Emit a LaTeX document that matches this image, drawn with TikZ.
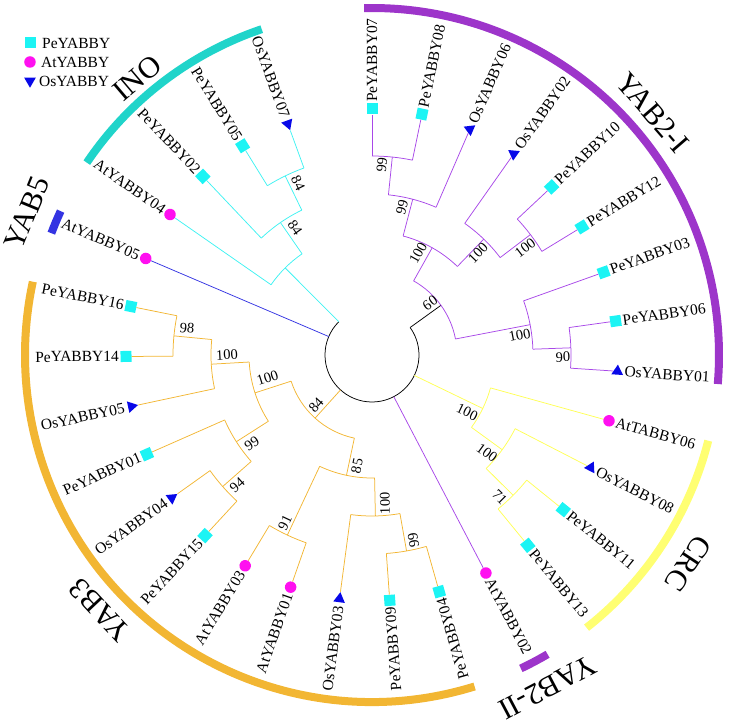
\documentclass[tikz,border=0pt]{standalone}
\usepackage{fontspec}
\setmainfont{Liberation Serif}
\usetikzlibrary{shapes.geometric}

\definecolor{inoline}{HTML}{3FF2F2}
\definecolor{inoarc}{HTML}{20D4CA}
\definecolor{yabfive}{HTML}{3434E2}
\definecolor{yabthree}{HTML}{F2B633}
\definecolor{crcline}{HTML}{FFFF55}
\definecolor{crcarc}{HTML}{FFFF72}
\definecolor{yabtwo}{HTML}{A848E8}
\definecolor{yabtwoarc}{HTML}{9D35CA}
\definecolor{pecol}{HTML}{1CF4F4}
\definecolor{atcol}{HTML}{FF10F0}
\definecolor{oscol}{HTML}{0808E8}

\begin{document}
\begin{tikzpicture}[
    branch/.style={line width=0.75pt},
    pemark/.style={rectangle, fill=pecol, minimum size=11pt, inner sep=0pt},
    atmark/.style={circle, fill=atcol, minimum size=11.5pt, inner sep=0pt},
    osmark/.style={regular polygon, regular polygon sides=3, fill=oscol, minimum size=13.5pt, inner sep=0pt},
    leaflabel/.style={font=\fontsize{15.5}{17}\selectfont, inner sep=1pt},
    bslabel/.style={font=\fontsize{14.5}{16}\selectfont, inner sep=0pt},
    cladelabel/.style={font=\fontsize{30}{32}\selectfont, inner sep=0pt},
    cladearc/.style={line width=8pt}]
    \useasboundingbox (-372pt,-370pt) rectangle (361pt,355pt);

    % Root
    \draw[branch] (-225.086:47pt) arc[start angle=-225.086, end angle=35.776, radius=47pt];
    \draw[branch] (35.776:47pt) -- (35.776:85pt);
    \draw[branch, yabtwo] (60.69:85pt) arc[start angle=60.69, end angle=10.862, radius=85pt];

    % Internal nodes: angle/radius/parent radius/arc start/arc end/colour
    \foreach \th/\r/\pr/\aa/\ab/\col in {
        84.138/199/161/90/78.276/yabtwo, 75.345/161/123/84.138/66.552/yabtwo,
        37.241/199/161/43.103/31.379/yabtwo, 46.034/161/123/54.828/37.241/yabtwo,
        60.69/123/85/75.345/46.034/yabtwo, 2.069/199/161/7.931/-3.793/yabtwo,
        10.862/161/85/19.655/2.069/yabtwo,
        -44.828/199/161/-38.966/-50.690/crcline, -36.034/161/123/-27.241/-44.828/crcline,
        -25.776/123/47/-15.517/-36.034/crcline,
        -80/199/161/-74.138/-85.862/yabthree, -88.793/161/123/-80/-97.586/yabthree,
        -115.172/199/123/-109.310/-121.034/yabthree, -101.983/123/85/-88.793/-115.172/yabthree,
        -138.621/199/161/-132.759/-144.483/yabthree, -147.414/161/123/-138.621/-156.207/yabthree,
        -185.517/199/161/-179.655/-191.379/yabthree, -176.724/161/123/-167.931/-185.517/yabthree,
        -162.069/123/85/-147.414/-176.724/yabthree, -132.026/85/47/-101.983/-162.069/yabthree,
        -244.138/199/161/-238.276/-250/inoline, -235.345/161/123/-226.552/-244.138/inoline,
        -225.086/123/47/-214.828/-235.345/inoline}{
        \draw[branch, \col] (\th:\pr pt) -- (\th:\r pt);
        \draw[branch, \col] (\aa:\r pt) arc[start angle=\aa, end angle=\ab, radius=\r pt];
    }

    % Leaves: index/name/mark/colour/parent radius
    \foreach \i/\nm/\mk/\col/\pr in {
        0/PeYABBY07/pemark/yabtwo/199, 1/PeYABBY08/pemark/yabtwo/199,
        2/OsYABBY06/osmark/yabtwo/161, 3/OsYABBY02/osmark/yabtwo/161,
        4/PeYABBY10/pemark/yabtwo/199, 5/PeYABBY12/pemark/yabtwo/199,
        6/PeYABBY03/pemark/yabtwo/161, 7/PeYABBY06/pemark/yabtwo/199,
        8/OsYABBY01/osmark/yabtwo/199, 9/AtTABBY06/atmark/crcline/123,
        10/OsYABBY08/osmark/crcline/161, 11/PeYABBY11/pemark/crcline/199,
        12/PeYABBY13/pemark/crcline/199, 13/AtYABBY02/atmark/yabtwo/47,
        14/PeYABBY04/pemark/yabthree/199, 15/PeYABBY09/pemark/yabthree/199,
        16/OsYABBY03/osmark/yabthree/161, 17/AtYABBY01/atmark/yabthree/199,
        18/AtYABBY03/atmark/yabthree/199, 19/PeYABBY15/pemark/yabthree/199,
        20/OsYABBY04/osmark/yabthree/199, 21/PeYABBY01/pemark/yabthree/161,
        22/OsYABBY05/osmark/yabthree/161, 23/PeYABBY14/pemark/yabthree/199,
        24/PeYABBY16/pemark/yabthree/199, 25/AtYABBY05/atmark/yabfive/47,
        26/AtYABBY04/atmark/inoline/123, 27/PeYABBY02/pemark/inoline/161,
        28/PeYABBY05/pemark/inoline/199, 29/OsYABBY07/osmark/inoline/199}{
        \pgfmathsetmacro\th{90-\i*340/29}
        \pgfmathtruncatemacro\flip{and(\th<-68,\th>-265)}
        \pgfmathsetmacro\thf{\th+180}
        \pgfmathsetmacro\thm{\th+90*\flip}
        \node[\mk, rotate=\thm] (m\i) at (\th:246pt) {};
        \draw[branch, \col] (\th:\pr pt) -- (m\i);
        \ifnum\flip=1
            \node[leaflabel, anchor=east, rotate=\thf] (t\i) at (\th:252pt) {\nm};
        \else
            \node[leaflabel, anchor=west, rotate=\th] (t\i) at (\th:252pt) {\nm};
        \fi
    }

    % Bootstrap values: angle/radius/rotation/value
    \foreach \a/\r/\rot/\txt [count=\k] in {
        41.9/78/35.8/60, 65.7/112/60.7/100, 78.5/151/75.3/99, 87/190/84.1/99,
        43.9/147/46/100, 35/187/37.2/100, 7.7/149/10.9/100, -0.6/191/2.1/90,
        -31/111/-25.8/100, -40.4/151/-36/100, -48/191/-44.8/71,
        221.8/75/48/84, 262.3/112/78/85, 275/149/91.2/100, 282.6/189.6/100/99,
        242.6/189/64.8/91, 192.4/107/17.9/100, 180/145/3.3/100, 171.7/187/-5.5/98,
        216.3/149/32.6/99, 223.9/187/41.4/94,
        121.2/148.5/-55.3/84, 113.3/187/-64.1/84}{
        \node[bslabel, rotate=\rot] (bs\k) at (\a:\r pt) {\txt};
    }

    % Clade arcs
    \draw[cladearc, yabtwoarc] (91.3:347pt) arc[start angle=91.3, end angle=-4.8, radius=347pt];
    \draw[cladearc, crcarc] (-14.3:347pt) arc[start angle=-14.3, end angle=-51.8, radius=347pt];
    \draw[cladearc, yabtwoarc] (-59.6:347pt) arc[start angle=-59.6, end angle=-64.6, radius=347pt];
    \draw[cladearc, yabthree] (-72.8:347pt) arc[start angle=-72.8, end angle=-192.2, radius=347pt];
    \draw[cladearc, yabfive] (-200.8:343pt) arc[start angle=-200.8, end angle=-204.8, radius=343pt];
    \draw[cladearc, inoarc] (-214:344pt) arc[start angle=-214, end angle=-251.3, radius=344pt];

    % Clade names
    \node[cladelabel, rotate=-49.2] (yabtwoi) at (40.8:371pt) {YAB2-I};
    \node[cladelabel, rotate=40.3] (ino) at (130.3:363pt) {INO};
    \node[cladelabel, rotate=67.6] (yabv) at (157.6:373pt) {YAB5};
    \node[cladelabel, rotate=133.2] (yabiii) at (223.2:373pt) {YAB3};
    \node[cladelabel, rotate=-152.2] (yabtwoii) at (-62.2:376pt) {YAB2-II};
    \node[cladelabel, rotate=-123.4] (crc) at (-33.4:379pt) {CRC};

    % Legend
    \node[pemark] (lgpe) at (-341pt,312pt) {};
    \node[leaflabel, anchor=west, font=\fontsize{15.5}{17}\selectfont] (lgpetxt) at (-331pt,312pt) {PeYABBY};
    \node[atmark] (lgat) at (-342pt,293pt) {};
    \node[leaflabel, anchor=west, font=\fontsize{15.5}{17}\selectfont] (lgattxt) at (-332pt,293pt) {AtYABBY};
    \node[osmark, rotate=180] (lgos) at (-342pt,274pt) {};
    \node[leaflabel, anchor=west, font=\fontsize{15.5}{17}\selectfont] (lgostxt) at (-334pt,274pt) {OsYABBY};
\end{tikzpicture}
\end{document}
